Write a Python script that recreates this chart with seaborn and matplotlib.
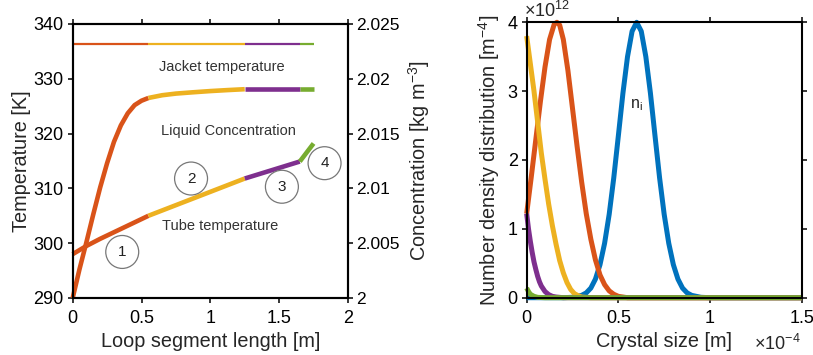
import matplotlib
matplotlib.use("Agg")
import matplotlib.pyplot as plt
import seaborn as sns

sns.set_theme(style="white")
plt.rcParams['font.family'] = ['Liberation Sans', 'DejaVu Sans']
plt.rcParams['mathtext.fontset'] = 'custom'
plt.rcParams['mathtext.rm'] = 'Liberation Sans'
plt.rcParams['mathtext.it'] = 'Liberation Sans:italic'
plt.rcParams['mathtext.bf'] = 'Liberation Sans:bold'

# ---------------- colours (MATLAB default order) ----------------
C_BLUE, C_ORANGE, C_YELLOW, C_PURPLE, C_GREEN = "#0072BD", "#D95319", "#EDB120", "#7E2F8E", "#77AC30"

# ---------------- left panel data ----------------
# Jacket temperature [K], segments 1..4
jacket_x = [[0, 0.55], [0.55, 1.25], [1.25, 1.65], [1.65, 1.75]]
jacket_T = [[336.3, 336.3], [336.3, 336.3], [336.3, 336.3], [336.3, 336.3]]

# Tube temperature [K], segments 1..4
tube_x = [[0, 0.1, 0.2, 0.3, 0.4, 0.55],
          [0.55, 0.9, 1.25],
          [1.25, 1.65],
          [1.65, 1.75]]
tube_T = [[298.0, 299.5, 300.8, 302.0, 303.2, 305.0],
          [305.0, 308.4, 311.8],
          [311.8, 314.9],
          [314.9, 318.2]]

# Liquid concentration [kg m^-3], segments 1..4
conc_x = [[0, 0.05, 0.1, 0.15, 0.2, 0.25, 0.3, 0.35, 0.4, 0.45, 0.5, 0.55],
          [0.55, 0.65, 0.75, 0.875, 1.0, 1.125, 1.25],
          [1.25, 1.65],
          [1.65, 1.75]]
conc_c = [[2.0, 2.00265, 2.0051, 2.00765, 2.0101, 2.0123, 2.01425, 2.01575, 2.01685, 2.0176, 2.018, 2.01825],
          [2.01825, 2.0185, 2.01865, 2.01877, 2.01888, 2.01897, 2.01905],
          [2.01905, 2.01905],
          [2.01905, 2.01905]]
seg_colors = [C_ORANGE, C_YELLOW, C_PURPLE, C_GREEN]

left_xticks = [0, 0.5, 1, 1.5, 2]
left_xticklabels = ["0", "0.5", "1", "1.5", "2"]
left_yticks = [290, 300, 310, 320, 330, 340]
conc_ticks = [2.0, 2.005, 2.01, 2.015, 2.02, 2.025]
conc_ticklabels = ["2", "2.005", "2.01", "2.015", "2.02", "2.025"]

zone_labels = ["1", "2", "3", "4"]
zone_x = [0.36, 0.86, 1.52, 1.83]
zone_T = [298.4, 311.8, 310.3, 314.6]

# ---------------- right panel data (x in 1e-4 m, n in 1e12 m^-4) ----------------
blue_x = [0, 0.2, 0.25, 0.3, 0.325, 0.35, 0.375, 0.4, 0.425, 0.45, 0.475, 0.5, 0.525, 0.55, 0.575,
          0.6, 0.625, 0.65, 0.675, 0.7, 0.725, 0.75, 0.775, 0.8, 0.825, 0.85, 0.875, 0.9, 0.95, 1.0, 1.5]
blue_n = [0, 0, 0.006, 0.034, 0.07, 0.14, 0.27, 0.48, 0.79, 1.21, 1.74, 2.35, 2.97, 3.50, 3.87,
          4.0, 3.87, 3.50, 2.97, 2.35, 1.74, 1.21, 0.79, 0.48, 0.27, 0.14, 0.07, 0.034, 0.006, 0, 0]

orange_x = [0, 0.025, 0.05, 0.075, 0.1, 0.125, 0.15, 0.165, 0.18, 0.2, 0.225, 0.25, 0.275, 0.3,
            0.325, 0.35, 0.375, 0.4, 0.425, 0.45, 0.475, 0.5, 0.55, 1.5]
orange_n = [1.22, 1.75, 2.3, 2.85, 3.35, 3.75, 3.97, 4.0, 3.96, 3.75, 3.3, 2.75, 2.2, 1.68,
            1.22, 0.85, 0.55, 0.33, 0.19, 0.1, 0.05, 0.02, 0, 0]

yellow_x = [0, 0.02, 0.04, 0.06, 0.08, 0.1, 0.12, 0.14, 0.16, 0.18, 0.2, 0.22, 0.24, 0.26, 0.28, 0.3, 0.35, 1.5]
yellow_n = [3.8, 3.4, 3.0, 2.55, 2.1, 1.72, 1.36, 1.05, 0.78, 0.54, 0.36, 0.22, 0.12, 0.06, 0.03, 0.01, 0, 0]

purple_x = [0, 0.01, 0.02, 0.03, 0.04, 0.05, 0.06, 0.07, 0.08, 0.1, 0.12, 0.14, 0.16, 0.2, 1.5]
purple_n = [1.22, 1.0, 0.82, 0.66, 0.52, 0.41, 0.31, 0.23, 0.17, 0.09, 0.045, 0.02, 0.01, 0, 0]

green_x = [0, 0.01, 0.02, 0.04, 0.06, 0.1, 1.5]
green_n = [0.14, 0.09, 0.05, 0.02, 0.005, 0, 0]

right_xticks = [0, 0.5, 1, 1.5]
right_xticklabels = ["0", "0.5", "1", "1.5"]
right_yticks = [0, 1, 2, 3, 4]

# ---------------- figure ----------------
fig = plt.figure(figsize=(8.13, 3.55), dpi=100)
axL = fig.add_axes([0.0894, 0.1606, 0.3386, 0.7718])
axR = fig.add_axes([0.6478, 0.1614, 0.3383, 0.7758])
axC = axL.twinx()

TICK_FS = 13
LAB_FS = 14.3
THICK = 3.3


def line(ax, x, y, color, lw):
    sns.lineplot(x=x, y=y, ax=ax, color=color, linewidth=lw, sort=False,
                 estimator=None, clip_on=False, solid_capstyle="butt", legend=False)


for xs, ts, col in zip(jacket_x, jacket_T, seg_colors):
    line(axL, xs, ts, col, 1.6)
for xs, ts, col in zip(tube_x, tube_T, seg_colors):
    line(axL, xs, ts, col, THICK)
for xs, cs, col in zip(conc_x, conc_c, seg_colors):
    line(axC, xs, cs, col, THICK)

axL.set_xlim(0, 2)
axL.set_ylim(290, 340)
axC.set_ylim(2.0, 2.025)
axL.set_xticks(left_xticks)
axL.set_xticklabels(left_xticklabels)
axL.set_yticks(left_yticks)
axL.set_yticklabels([str(v) for v in left_yticks])
axC.set_yticks(conc_ticks)
axC.set_yticklabels(conc_ticklabels)

axL.set_xlabel("Loop segment length [m]", fontsize=LAB_FS, labelpad=4)
axL.set_ylabel("Temperature [K]", fontsize=LAB_FS, labelpad=2)
axC.set_ylabel("Concentration [kg m$^{-3}$]", fontsize=LAB_FS, labelpad=0)
axC.yaxis.set_label_coords(1.21, 0.5)

axL.text(1.08, 332.2, "Jacket temperature", ha="center", va="center", fontsize=10.5, color="#333333")
axL.text(1.13, 320.5, "Liquid Concentration", ha="center", va="center", fontsize=10.5, color="#333333")
axL.text(1.07, 303.2, "Tube temperature", ha="center", va="center", fontsize=10.5, color="#333333")
for lab, zx, zt in zip(zone_labels, zone_x, zone_T):
    axL.text(zx, zt, lab, ha="center", va="center", fontsize=11, color="#222222",
             bbox=dict(boxstyle="circle,pad=0.62", fc="white", ec="#777777", lw=0.9))

# right panel
for xs, ns, col in [(blue_x, blue_n, C_BLUE), (orange_x, orange_n, C_ORANGE),
                    (yellow_x, yellow_n, C_YELLOW), (purple_x, purple_n, C_PURPLE),
                    (green_x, green_n, C_GREEN)]:
    line(axR, xs, ns, col, 3.6)

axR.set_xlim(0, 1.5)
axR.set_ylim(0, 4)
axR.set_xticks(right_xticks)
axR.set_xticklabels(right_xticklabels)
axR.set_yticks(right_yticks)
axR.set_yticklabels([str(v) for v in right_yticks])
axR.set_xlabel("Crystal size [m]", fontsize=LAB_FS, labelpad=4)
axR.set_ylabel("Number density distribution [m$^{-4}$]", fontsize=LAB_FS, labelpad=4)
axR.text(0.6, 2.8, "n$_\\mathregular{i}$", ha="center", va="center", fontsize=11.5, color="#222222")
axR.text(-0.01, 1.005, "×10$^{12}$", transform=axR.transAxes, ha="left", va="bottom", fontsize=13)
axR.text(0.91, -0.13, "×10$^{-4}$", transform=axR.transAxes, ha="center", va="top", fontsize=13)

for ax in (axL, axC, axR):
    for s in ax.spines.values():
        s.set_visible(True)
        s.set_color("black")
        s.set_linewidth(1.5)
    ax.tick_params(direction="out", length=3.5, width=1.1, colors="black",
                   labelsize=TICK_FS, pad=3)
axL.tick_params(axis="both", which="both", top=True, bottom=True, left=True, right=False)
axC.tick_params(axis="y", right=True, left=False, labelsize=12.5, pad=2.5)
axR.tick_params(axis="both", top=True, right=True, left=True, bottom=True)
axL.tick_params(axis="x", pad=5)
axR.tick_params(axis="x", pad=5)

fig.savefig("out.png", dpi=100)
